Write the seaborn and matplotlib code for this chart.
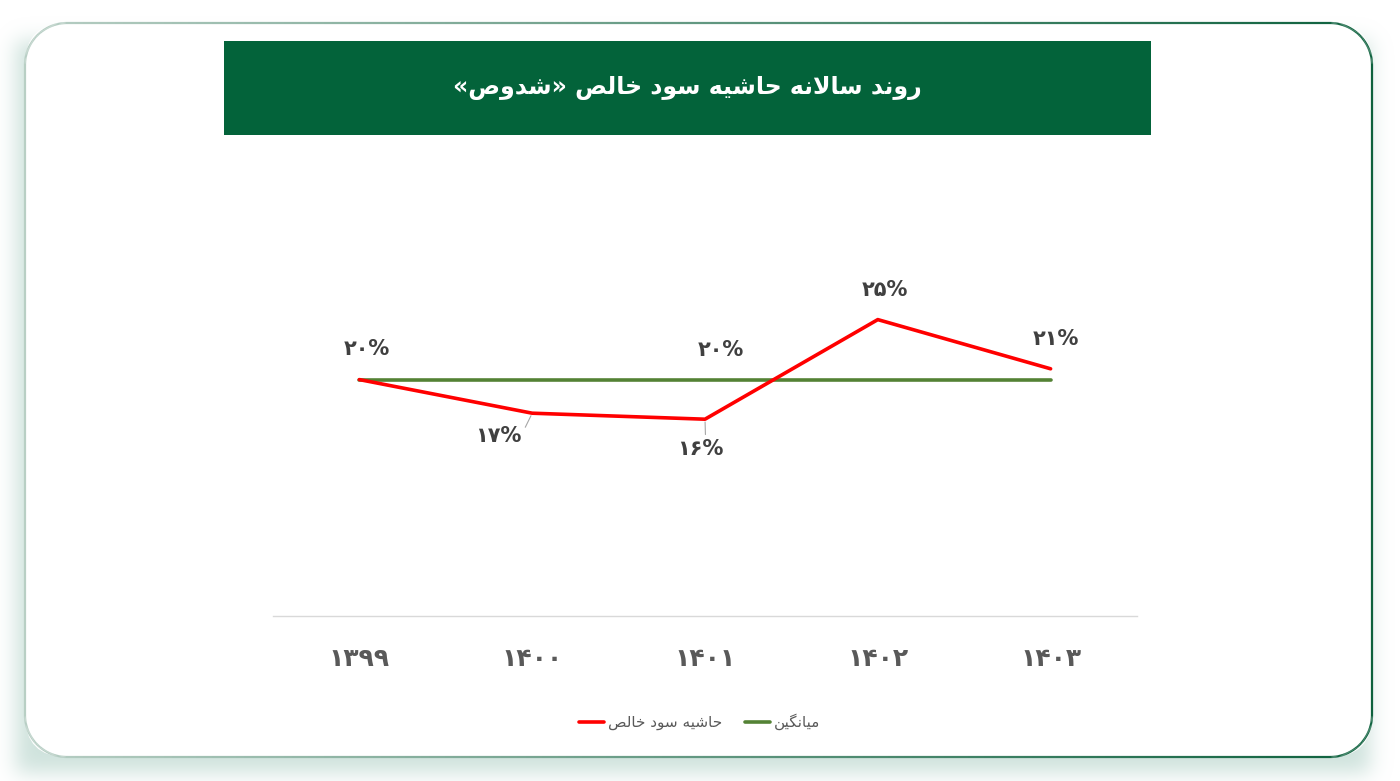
import math
import numpy as np
import pandas as pd
import matplotlib
matplotlib.use("Agg")
import matplotlib.pyplot as plt
import seaborn as sns
from matplotlib.patches import FancyBboxPatch, Rectangle
from matplotlib.collections import LineCollection

# ---------------- data ----------------
years = ["۱۳۹۹", "۱۴۰۰", "۱۴۰۱", "۱۴۰۲", "۱۴۰۳"]
net_margin = [19.7, 16.9, 16.4, 24.7, 20.6]
average = [19.7, 19.7, 19.7, 19.7, 19.7]
title_text = "روند سالانه حاشیه سود خالص «شدوص»"
series_margin = "حاشیه سود خالص"
series_avg = "میانگین"

# ---------------- styles ----------------
RED = "#ff0000"
GREEN = "#548235"
BANNER = "#03633a"
TXT = "#404040"
TICK = "#595959"

# ---------------- minimal Arabic/Persian shaping ----------------
FORMS = {
    'ا': ('\uFE8D', '\uFE8E', None, None),
    'د': ('\uFEA9', '\uFEAA', None, None),
    'ر': ('\uFEAD', '\uFEAE', None, None),
    'و': ('\uFEED', '\uFEEE', None, None),
    'ن': ('\uFEE5', '\uFEE6', '\uFEE7', '\uFEE8'),
    'س': ('\uFEB1', '\uFEB2', '\uFEB3', '\uFEB4'),
    'ش': ('\uFEB5', '\uFEB6', '\uFEB7', '\uFEB8'),
    'ص': ('\uFEB9', '\uFEBA', '\uFEBB', '\uFEBC'),
    'ل': ('\uFEDD', '\uFEDE', '\uFEDF', '\uFEE0'),
    'ه': ('\uFEE9', '\uFEEA', '\uFEEB', '\uFEEC'),
    'ح': ('\uFEA1', '\uFEA2', '\uFEA3', '\uFEA4'),
    'خ': ('\uFEA5', '\uFEA6', '\uFEA7', '\uFEA8'),
    'م': ('\uFEE1', '\uFEE2', '\uFEE3', '\uFEE4'),
    'ی': ('\uFBFC', '\uFBFD', '\uFBFE', '\uFBFF'),
    'گ': ('\uFB92', '\uFB93', '\uFB94', '\uFB95'),
}
MIRROR = {'«': '»', '»': '«', '(': ')', ')': '('}


def shape_rtl(text):
    chars = list(text)
    n = len(chars)
    res = []
    i = 0

    def dual(c):
        return c in FORMS and FORMS[c][2] is not None

    while i < n:
        c = chars[i]
        if c not in FORMS:
            res.append(MIRROR.get(c, c))
            i += 1
            continue
        prev_j = i > 0 and dual(chars[i - 1])
        if c == 'ل' and i + 1 < n and chars[i + 1] == 'ا':
            res.append('\uFEFC' if prev_j else '\uFEFB')
            i += 2
            continue
        next_j = i + 1 < n and chars[i + 1] in FORMS
        iso, fin, ini, med = FORMS[c]
        if ini is None:
            res.append(fin if prev_j else iso)
        else:
            if prev_j and next_j:
                res.append(med)
            elif prev_j:
                res.append(fin)
            elif next_j:
                res.append(ini)
            else:
                res.append(iso)
        i += 1
    return ''.join(reversed(res))


def fa_pct(v):
    return str(int(round(v))).translate(str.maketrans("0123456789", "۰۱۲۳۴۵۶۷۸۹")) + "%"


# ---------------- figure ----------------
sns.set_theme(style="white")
plt.rcParams['font.family'] = ['DejaVu Sans']

W, H = 1400, 781
fig = plt.figure(figsize=(W / 100, H / 100), dpi=100)
fig.patch.set_facecolor("white")

bg = fig.add_axes([0, 0, 1, 1])
bg.set_xlim(0, W)
bg.set_ylim(H, 0)
bg.axis("off")

# soft shadow (separable gaussian-blurred rectangle), offset down-left
cx0, cy0, cx1, cy1, rad = 25, 23, 1372, 757, 42
sig = 10.0
xs = np.arange(W) + 0.5
ys = np.arange(H) + 0.5
erf = np.vectorize(math.erf)
sx0, sx1, sy0, sy1 = cx0 - 9, cx1 - 2, cy0 + 18, cy1 + 16
fx = 0.5 * (erf((xs - sx0) / (sig * math.sqrt(2))) - erf((xs - sx1) / (sig * math.sqrt(2))))
fy = 0.5 * (erf((ys - sy0) / (sig * math.sqrt(2))) - erf((ys - sy1) / (sig * math.sqrt(2))))
alpha = np.outer(fy, fx) * 0.6
img = np.zeros((H, W, 4))
img[..., 0] = 175 / 255
img[..., 1] = 208 / 255
img[..., 2] = 198 / 255
img[..., 3] = alpha
bg.imshow(img, extent=(0, W, H, 0), aspect="auto", zorder=0, interpolation="bilinear")

card = FancyBboxPatch((cx0, cy0), cx1 - cx0, cy1 - cy0,
                      boxstyle=f"round,pad=0,rounding_size={rad}",
                      fc="white", ec="none", zorder=1)
bg.add_patch(card)

# gradient border of the card
pts = []
def arc(cx, cy, a0, a1, k=30):
    for t in np.linspace(a0, a1, k):
        pts.append((cx + rad * math.cos(t), cy + rad * math.sin(t)))
arc(cx0 + rad, cy0 + rad, math.pi, 1.5 * math.pi)
arc(cx1 - rad, cy0 + rad, 1.5 * math.pi, 2 * math.pi)
arc(cx1 - rad, cy1 - rad, 0, 0.5 * math.pi)
arc(cx0 + rad, cy1 - rad, 0.5 * math.pi, math.pi)
pts.append(pts[0])
pts = np.array(pts)
dense = []
for a, b in zip(pts[:-1], pts[1:]):
    seg_len = np.hypot(*(b - a))
    k = max(2, int(seg_len / 8))
    for t in np.linspace(0, 1, k, endpoint=False):
        dense.append(a + (b - a) * t)
dense.append(pts[-1])
dense = np.array(dense)
segs = np.stack([dense[:-1], dense[1:]], axis=1)
mid = segs.mean(axis=1)
tpos = np.clip((mid[:, 0] - cx0) / (cx1 - cx0), 0, 1)
c_left = np.array([0.72, 0.81, 0.77])
c_right = np.array([0.05, 0.38, 0.24])
cols = c_left[None, :] * (1 - tpos[:, None]) + c_right[None, :] * tpos[:, None]
lc = LineCollection(segs, colors=cols, linewidths=1.6, zorder=2)
bg.add_collection(lc)

# title banner
bg.add_patch(Rectangle((224, 41), 927, 94, fc=BANNER, ec="none", zorder=3))
bg.text(687, 88, shape_rtl(title_text), color="white", fontsize=17, fontweight="bold",
        ha="center", va="center", zorder=4)

# ---------------- chart ----------------
ax = fig.add_axes([273 / W, (H - 616) / H, 864 / W, 420 / H])
ax.patch.set_alpha(0)
xpos = np.arange(len(years))
df = pd.DataFrame({"x": xpos, "margin": net_margin, "avg": average})

sns.lineplot(data=df, x="x", y="margin", ax=ax, color=RED, lw=2.6,
             label=shape_rtl(series_margin), zorder=3)
sns.lineplot(data=df, x="x", y="avg", ax=ax, color=GREEN, lw=2.6,
             label=shape_rtl(series_avg), zorder=2)

ax.set_xlim(-0.5, len(years) - 0.5)
ax.set_ylim(0, 35)
ax.set_xlabel("")
ax.set_ylabel("")
ax.set_yticks([])
ax.set_xticks(xpos)
ax.set_xticklabels(years, fontsize=18, fontweight="bold", color=TICK)
ax.tick_params(axis="x", length=0, pad=22)
for s in ["top", "left", "right"]:
    ax.spines[s].set_visible(False)
ax.spines["bottom"].set_color("#d9d9d9")
ax.spines["bottom"].set_linewidth(1.0)

# data labels (offsets in pixels)
margin_offsets = [(7, 31), (-34, -23), (-5, -30), (7, 30), (5, 30)]
leader = [False, True, True, False, False]
leader_rel = [None, (1.0, 0.55), (0.62, 1.0), None, None]
for i, v in enumerate(net_margin):
    kw = {}
    if leader[i]:
        kw["arrowprops"] = dict(arrowstyle="-", color="#a6a6a6", lw=0.8,
                                shrinkA=1, shrinkB=2, relpos=leader_rel[i])
    ax.annotate(fa_pct(v), xy=(xpos[i], v), xytext=margin_offsets[i],
                textcoords="offset pixels", ha="center", va="center",
                fontsize=15, fontweight="bold", color=TXT, zorder=5, **kw)

avg_idx = 2
ax.annotate(fa_pct(average[avg_idx]), xy=(xpos[avg_idx], average[avg_idx]),
            xytext=(16, 30), textcoords="offset pixels", ha="center", va="center",
            fontsize=15, fontweight="bold", color=TXT, zorder=5)

leg = ax.legend(loc="center", bbox_to_anchor=(0.5, 1 - 722 / H), bbox_transform=fig.transFigure,
                ncol=2, frameon=False, fontsize=11, handlelength=1.6, handletextpad=0.3,
                columnspacing=1.5)
for t in leg.get_texts():
    t.set_color(TICK)

fig.savefig("out.png", dpi=100)
